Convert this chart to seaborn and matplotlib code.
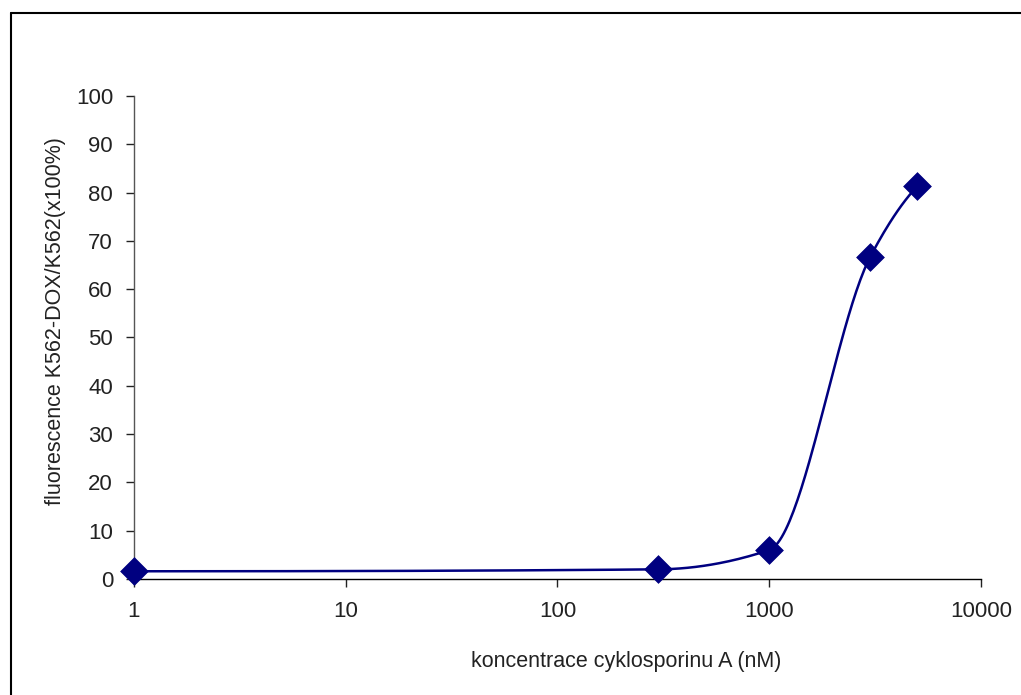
import numpy as np
import pandas as pd
import seaborn as sns
import matplotlib.pyplot as plt
from matplotlib.lines import Line2D

# koncentrace (nM) a relativni fluorescence (%)
koncentrace = [1, 300, 1000, 3000, 5000]
fluorescence = [1.6, 2.0, 6.0, 66.7, 81.3]
xticks = [1, 10, 100, 1000, 10000]
yticks = [0, 10, 20, 30, 40, 50, 60, 70, 80, 90, 100]

barva = '#000080'


def pchip(x, y, xn):
    # monotonni kubicka interpolace (Fritsch-Carlson)
    x = np.asarray(x, float)
    y = np.asarray(y, float)
    h = np.diff(x)
    d = np.diff(y) / h
    m = np.zeros_like(y)
    for i in range(1, len(y) - 1):
        if d[i - 1] * d[i] > 0:
            w1 = 2 * h[i] + h[i - 1]
            w2 = h[i] + 2 * h[i - 1]
            m[i] = (w1 + w2) / (w1 / d[i - 1] + w2 / d[i])
    m[0] = ((2 * h[0] + h[1]) * d[0] - h[0] * d[1]) / (h[0] + h[1])
    if m[0] * d[0] <= 0:
        m[0] = 0
    m[-1] = ((2 * h[-1] + h[-2]) * d[-1] - h[-1] * d[-2]) / (h[-1] + h[-2])
    if m[-1] * d[-1] <= 0:
        m[-1] = 0
    idx = np.clip(np.searchsorted(x, xn) - 1, 0, len(h) - 1)
    t = (xn - x[idx]) / h[idx]
    h00 = 2 * t**3 - 3 * t**2 + 1
    h10 = t**3 - 2 * t**2 + t
    h01 = -2 * t**3 + 3 * t**2
    h11 = t**3 - t**2
    return h00 * y[idx] + h10 * h[idx] * m[idx] + h01 * y[idx + 1] + h11 * h[idx] * m[idx + 1]


lx = np.log10(koncentrace)
lx_hust = np.linspace(lx[0], lx[-1], 400)
krivka = pd.DataFrame({'x': 10**lx_hust, 'y': pchip(lx, fluorescence, lx_hust)})
body = pd.DataFrame({'x': koncentrace, 'y': fluorescence})

sns.set_theme(style='white')
plt.rcParams['font.family'] = ['Liberation Sans', 'DejaVu Sans']

fig = plt.figure(figsize=(10.21, 6.95), dpi=100)
ax = fig.add_axes([0.1312, 0.1669, 0.8296, 0.6950])

sns.lineplot(data=krivka, x='x', y='y', color=barva, linewidth=1.8, ax=ax, sort=False)
sns.scatterplot(data=body, x='x', y='y', marker='D', s=200, color=barva,
                edgecolor=barva, linewidth=0.5, ax=ax, zorder=5, clip_on=False)

ax.set_xscale('log')
ax.set_xlim(1, 10000)
ax.set_ylim(0, 100)
ax.set_xticks(xticks)
ax.set_xticklabels([str(v) for v in xticks])
ax.xaxis.set_minor_locator(plt.NullLocator())
ax.set_yticks(yticks)
ax.set_yticklabels([str(v) for v in yticks])
ax.set_xlabel('')
ax.set_ylabel('')

for s in ['top', 'right']:
    ax.spines[s].set_visible(False)
ax.spines['left'].set_color('#555555')
ax.spines['bottom'].set_color('#000000')
ax.spines['left'].set_linewidth(1.0)
ax.spines['bottom'].set_linewidth(1.0)
ax.tick_params(axis='both', which='major', direction='out', length=6, width=1,
               labelsize=16, colors='#222222', left=True, bottom=True)
ax.tick_params(axis='x', pad=10)
ax.tick_params(axis='y', pad=9)

fig.text(0.6131, 0.0475, 'koncentrace cyklosporinu A (nM)', ha='center', va='center',
         fontsize=15.5, color='#222222')
fig.text(0.0548, 0.5381, 'fluorescence K562-DOX/K562(x100%)', ha='center', va='center',
         rotation=90, fontsize=15.5, color='#222222')

# ramecek grafu
fig.add_artist(Line2D([0.0108, 1.0], [0.982, 0.982], color='black', lw=1.5))
fig.add_artist(Line2D([0.0108, 0.0108], [0.0, 0.982], color='black', lw=1.5))

fig.savefig('out.png', dpi=100)
